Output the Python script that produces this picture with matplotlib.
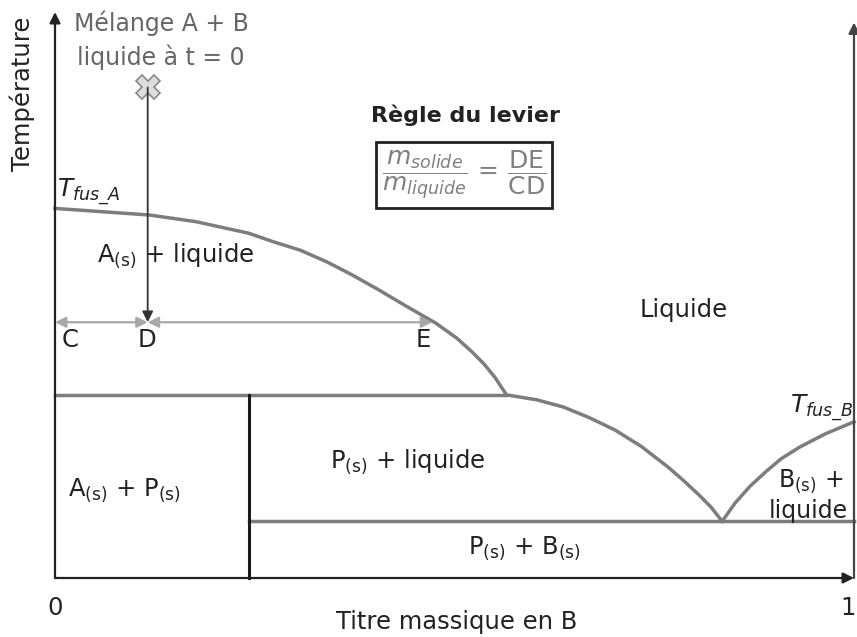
import numpy as np
import matplotlib
matplotlib.use("Agg")
import matplotlib.pyplot as plt

plt.rcParams['font.family'] = ['DejaVu Sans']
plt.rcParams['mathtext.fontset'] = 'dejavusans'

# Diagram data: x = titre massique en B (0..1), T = temperature (arbitrary units)
liqA_x = [0.0, 0.118, 0.176, 0.242, 0.274, 0.307, 0.340, 0.372, 0.405, 0.4375,
          0.477, 0.503, 0.522, 0.537, 0.551, 0.565]
liqA_T = [67.2, 66.0, 64.8, 62.7, 61.1, 59.6, 57.5, 55.1, 52.4, 49.6,
          46.3, 43.6, 41.1, 38.9, 36.4, 33.3]
liqP_x = [0.565, 0.603, 0.636, 0.668, 0.701, 0.734, 0.767, 0.786, 0.806, 0.821, 0.835]
liqP_T = [33.3, 32.4, 31.1, 29.2, 26.9, 23.9, 20.2, 17.8, 15.1, 12.9, 10.3]
liqB_x = [0.835, 0.851, 0.870, 0.891, 0.909, 0.932, 0.964, 1.0]
liqB_T = [10.3, 13.6, 16.7, 19.5, 21.7, 23.8, 26.2, 28.4]

T_peritectic = 33.3
T_eutectic = 10.3
x_P = 0.243          # composition of compound P
x_mix = 0.116        # composition of the mixture
T_lever = 46.5
x_E = 0.472
T_start = 89.2
T_top_left = 102.9
T_top_right = 101.0

text_col = '#222222'
curve_col = '#7d7d7d'
fs = 17.5

fig = plt.figure(figsize=(8.57, 6.37), dpi=100)
ax = fig.add_axes([0, 0, 1, 1])
ax.set_xlim(-55 / 799, 802 / 799)
ax.set_ylim((578 - 637) / 5.5, 578 / 5.5)
ax.axis('off')

# axes with arrows
arr = dict(arrowstyle='-|>', color='#222222', lw=1.6, mutation_scale=16,
           shrinkA=0, shrinkB=0)
ax.annotate('', xy=(0, T_top_left), xytext=(0, 0), arrowprops=arr)
ax.annotate('', xy=(1.0, 0), xytext=(0, 0), arrowprops=arr)
ax.annotate('', xy=(1.0, T_top_right), xytext=(1.0, 0),
            arrowprops=dict(arr, color='#444444'))

# phase boundaries
kw = dict(color=curve_col, lw=2.5, solid_joinstyle='round')
ax.plot(liqA_x, liqA_T, **kw)
ax.plot(liqP_x, liqP_T, **kw)
ax.plot(liqB_x, liqB_T, **kw)
ax.plot([0, liqA_x[-1]], [T_peritectic, T_peritectic], **kw)
ax.plot([x_P, 1.0], [T_eutectic, T_eutectic], **kw)
ax.plot([x_P, x_P], [0, T_peritectic], color='#1a1a1a', lw=2.2)

# cooling of the mixture
ax.annotate('', xy=(x_mix, T_lever), xytext=(x_mix, T_start),
            arrowprops=dict(arrowstyle='-|>', color='#333333', lw=1.3,
                            mutation_scale=16, shrinkA=0, shrinkB=0))
ax.plot([x_mix], [T_start], marker='X', ms=17, mfc='#dddddd', mec='#888888',
        mew=1.2)

# lever arrows
lev = dict(arrowstyle='<|-|>', color='#a8a8a8', lw=1.6, mutation_scale=16,
           shrinkA=0, shrinkB=0)
ax.annotate('', xy=(0, T_lever), xytext=(x_mix, T_lever), arrowprops=lev)
ax.annotate('', xy=(x_mix, T_lever), xytext=(x_E, T_lever), arrowprops=lev)


def px(x, y):
    return (x - 55) / 799, (578 - y) / 5.5


def label(x, y, s, ha='center', **kw):
    kw.setdefault('color', text_col)
    kw.setdefault('fontsize', fs)
    ax.text(*px(x, y), s, ha=ha, va='center', **kw)


label(161, 23, 'Mélange A + B', color='#666666', fontsize=17)
label(161, 57, 'liquide à t = 0', color='#666666', fontsize=17)
ax.text(*px(22, 94), 'Température', rotation=90, ha='center', va='center',
        color=text_col, fontsize=fs)

label(465, 115, 'Règle du levier', fontweight='bold', fontsize=16)
ax.text(*px(464, 175),
        r'$\dfrac{m_{solide}}{m_{liquide}}\,=\,\dfrac{\mathrm{DE}}{\mathrm{CD}}$',
        ha='center', va='center', fontsize=18, color='#808080',
        bbox=dict(boxstyle='square,pad=0.25', fc='white', ec='#222222', lw=2))

label(57, 192, r'$T_{fus\_A}$', ha='left', fontsize=18)
label(853, 408, r'$T_{fus\_B}$', ha='right', fontsize=18)
label(97, 256, r'A$_{\mathrm{(s)}}$ + liquide', ha='left')
label(70, 340, 'C')
label(147, 340, 'D')
label(423, 340, 'E')
label(684, 310, 'Liquide')
label(330, 462, r'P$_{\mathrm{(s)}}$ + liquide', ha='left')
label(68, 490, r'A$_{\mathrm{(s)}}$ + P$_{\mathrm{(s)}}$', ha='left')
label(468, 548, r'P$_{\mathrm{(s)}}$ + B$_{\mathrm{(s)}}$', ha='left')
label(811, 481, r'B$_{\mathrm{(s)}}$ +', fontsize=17)
label(808, 511, 'liquide', fontsize=17)

label(55, 608, '0')
label(848, 608, '1')
label(457, 622, 'Titre massique en B')

fig.savefig('out.png', dpi=100)
